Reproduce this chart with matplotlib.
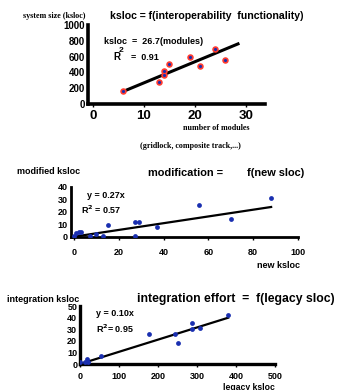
import matplotlib
matplotlib.use("Agg")
import matplotlib.pyplot as plt
import numpy as np

# panel 1: system size vs number of modules
modules = [6, 13, 14, 14, 15, 19, 21, 24, 26]
ksloc = [170, 280, 370, 420, 510, 590, 480, 700, 560]
slope1 = 26.7

# panel 2: modified ksloc vs new ksloc
new_ksloc = [0, 1, 2, 3, 7, 10, 13, 15, 27, 27, 29, 37, 56, 70, 88]
mod_ksloc = [0.5, 3, 3.5, 4, 0.5, 2, 0.5, 9, 0.5, 11.5, 11.5, 7.5, 25, 14, 31]
slope2 = 0.27

# panel 3: integration ksloc vs legacy ksloc
legacy_ksloc = [0, 13, 19, 21, 55, 178, 244, 250, 286, 288, 307, 380]
integ_ksloc = [1.5, 1.5, 4.5, 1.5, 7, 26, 26, 18.5, 30, 35.5, 31, 42]
slope3 = 0.10

W, H = 339, 390
fig = plt.figure(figsize=(W / 100, H / 100), dpi=100)
plt.rcParams['font.family'] = ['Liberation Sans', 'DejaVu Sans']


def px_axes(x0, y0, x1, y1):
    # pixel box (left, top, right, bottom) -> axes
    return fig.add_axes([x0 / W, 1 - y1 / H, (x1 - x0) / W, (y1 - y0) / H])


def style(ax, lw=2.2, xpad=3):
    for s in ['top', 'right']:
        ax.spines[s].set_visible(False)
    ax.spines['left'].set_linewidth(lw)
    ax.spines['bottom'].set_linewidth(lw)
    ax.tick_params(axis='y', length=0, pad=2)
    ax.tick_params(axis='x', length=2, width=1, direction='out', pad=xpad)


def ftext(x, y, s, **kw):
    fig.text(x / W, 1 - y / H, s, **kw)


# ---------------- panel 1 ----------------
ax1 = px_axes(88, 25, 265, 104)
style(ax1, 2.6, xpad=2.5)
ax1.set_xlim(-0.96, 33.8)
ax1.set_ylim(0, 1000)
ax1.set_xticks([0, 10, 20, 30])
ax1.set_yticks([0, 200, 400, 600, 800, 1000])
for lab in ax1.get_xticklabels():
    lab.set_fontsize(9.5)
    lab.set_fontweight('bold')
for lab in ax1.get_yticklabels():
    lab.set_fontsize(7)
    lab.set_fontweight('bold')
xl = np.array([6, 28.5])
ax1.plot(xl, slope1 * xl, color='black', lw=2.2)
ax1.scatter(modules, ksloc, s=22, color='#ff3b2f', zorder=3, linewidths=0)
ax1.scatter(modules, ksloc, s=5, color='#1a2fb0', zorder=4, linewidths=0)

ftext(23, 16, 'system size (ksloc)', family='Liberation Serif', fontsize=5.8,
      fontweight='bold', va='center', ha='left')
ftext(110, 16, 'ksloc = f(interoperability  functionality)', fontsize=7.6,
      fontweight='bold', va='center', ha='left')
ftext(104, 41, 'ksloc  =  26.7(modules)', fontsize=6.5, fontweight='bold',
      va='center', ha='left')
ftext(113, 57, 'R', fontsize=7, fontweight='bold', va='center', ha='left')
ftext(119, 50, '2', fontsize=6, fontweight='bold', va='center', ha='left')
ftext(131, 57, '=  0.91', fontsize=6.5, fontweight='bold', va='center', ha='left')
ftext(183, 128, 'number of modules', family='Liberation Serif', fontsize=5.8,
      fontweight='bold', va='center', ha='left')
ftext(140, 146, '(gridlock, composite track,...)', family='Liberation Serif',
      fontsize=5.8, fontweight='bold', va='center', ha='left')

# ---------------- panel 2 ----------------
ax2 = px_axes(70.7, 186.7, 298, 237.3)
style(ax2, 2.0, xpad=6)
ax2.set_xlim(-1.5, 100)
ax2.set_ylim(-0.5, 40)
ax2.set_xticks([0, 20, 40, 60, 80, 100])
ax2.set_yticks([0, 10, 20, 30, 40])
for lab in ax2.get_xticklabels() + ax2.get_yticklabels():
    lab.set_fontsize(6.5)
    lab.set_fontweight('bold')
xl = np.array([0, 88])
ax2.plot(xl, slope2 * xl, color='black', lw=1.6)
ax2.scatter(new_ksloc, mod_ksloc, s=12, color='#1a2fb0', zorder=3, linewidths=0)

ftext(17, 172, 'modified ksloc', fontsize=6.5, fontweight='bold', va='center', ha='left')
ftext(148, 173, 'modification =        f(new sloc)', fontsize=7.9,
      fontweight='bold', va='center', ha='left')
ftext(87, 196, 'y = 0.27x', fontsize=6.5, fontweight='bold', va='center', ha='left')
ftext(81, 210, 'R$^\\mathbf{2}$ = 0.57', fontsize=6.5, fontweight='bold',
      va='center', ha='left')
ftext(257, 266, 'new ksloc', fontsize=6.5, fontweight='bold', va='center', ha='left')

# ---------------- panel 3 ----------------
ax3 = px_axes(80, 306, 275, 364)
style(ax3, 2.4, xpad=4)
ax3.set_xlim(0, 500)
ax3.set_ylim(0, 50)
ax3.set_xticks([0, 100, 200, 300, 400, 500])
ax3.set_yticks([0, 10, 20, 30, 40, 50])
for lab in ax3.get_xticklabels() + ax3.get_yticklabels():
    lab.set_fontsize(6.5)
    lab.set_fontweight('bold')
xl = np.array([0, 380])
ax3.plot(xl, slope3 * xl * 1.05, color='black', lw=1.6)
ax3.scatter(legacy_ksloc, integ_ksloc, s=12, color='#1a2fb0', zorder=3, linewidths=0)

ftext(7, 299, 'integration ksloc', fontsize=6.5, fontweight='bold', va='center', ha='left')
ftext(137, 299, 'integration effort  =  f(legacy sloc)', fontsize=8.8,
      fontweight='bold', va='center', ha='left')
ftext(96, 314, 'y = 0.10x', fontsize=6.5, fontweight='bold', va='center', ha='left')
ftext(96, 329, 'R$^\\mathbf{2}$= 0.95', fontsize=6.5, fontweight='bold',
      va='center', ha='left')
ftext(223, 387, 'legacy ksloc', fontsize=6.2, fontweight='bold', va='center', ha='left')

fig.savefig('out.png', dpi=100)
